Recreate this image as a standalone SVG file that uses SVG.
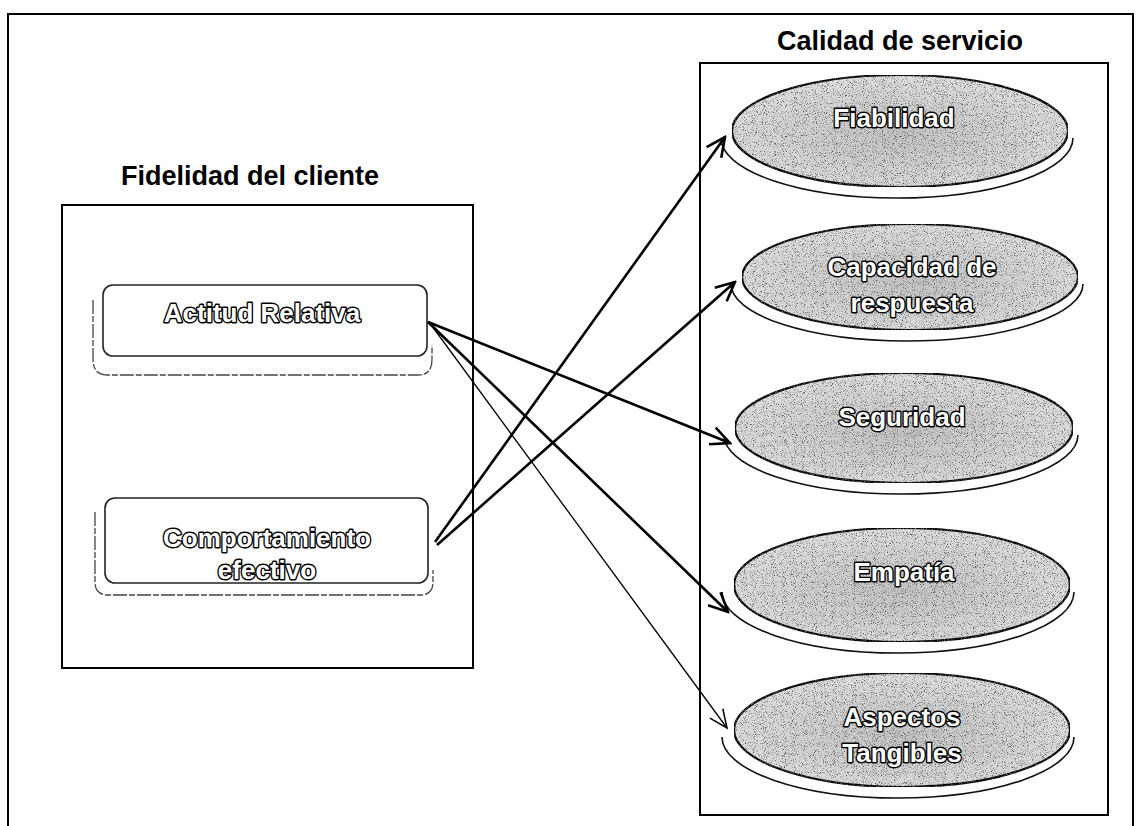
<svg xmlns="http://www.w3.org/2000/svg" width="1141" height="826" viewBox="0 0 1141 826">
<style>
  .frame{fill:none;stroke:#000;stroke-width:2}
  .title{font-family:"Liberation Sans",Arial,sans-serif;font-weight:bold;font-size:27px;fill:#000;text-anchor:middle}
  .lbl{font-family:"Liberation Sans",Arial,sans-serif;font-weight:bold;font-size:26px;fill:#fff;stroke:#000;stroke-width:2.8;paint-order:stroke;stroke-linejoin:round;text-anchor:middle}
  .rr{fill:#fff;stroke:#222;stroke-width:1.6}
  .shadow{fill:none;stroke:#444;stroke-width:1.3;stroke-dasharray:14 2 6 2}
  .oval{fill:url(#ovalFill);stroke:#000;stroke-width:2.2}
  .ring{fill:none;stroke:#111;stroke-width:1.6}
  .thick{fill:none;stroke:#000;stroke-width:2.6}
  .thin{fill:none;stroke:#000;stroke-width:1.3}
</style>
<defs>
  <radialGradient id="ovalFill" cx="0.5" cy="0.55" r="0.6">
    <stop offset="0" stop-color="#c4c4c4"/>
    <stop offset="1" stop-color="#e2e2e2"/>
  </radialGradient>
  <filter id="grain" x="0" y="0" width="1" height="1">
    <feTurbulence type="fractalNoise" baseFrequency="1.1" numOctaves="2" seed="7" result="noise"/>
    <feColorMatrix in="noise" type="matrix" values="0 0 0 0 0.1  0 0 0 0 0.1  0 0 0 0 0.1  4 0 0 0 -2.05" result="dots"/>
    <feComposite in="dots" in2="SourceGraphic" operator="in" result="clipped"/>
    <feMerge><feMergeNode in="SourceGraphic"/><feMergeNode in="clipped"/></feMerge>
  </filter>
  <marker id="ahThick" markerUnits="userSpaceOnUse" markerWidth="24" markerHeight="24" viewBox="0 0 24 24" refX="22" refY="12" orient="auto">
    <path d="M3,3 L22,12 L3,21" fill="none" stroke="#000" stroke-width="2.6"/>
  </marker>
  <marker id="ahThin" markerUnits="userSpaceOnUse" markerWidth="24" markerHeight="24" viewBox="0 0 24 24" refX="22" refY="12" orient="auto">
    <path d="M4,4 L22,12 L4,20" fill="none" stroke="#000" stroke-width="1.5"/>
  </marker>
</defs>
<rect width="1141" height="826" fill="#fff"/>

<g id="outer-frame">
  <path class="frame" d="M8,826 L8,14 L1133,14 L1133,826"/>
</g>

<g id="fidelidad-group">
  <text class="title" x="250" y="185">Fidelidad del cliente</text>
  <rect class="frame" x="62" y="205" width="411" height="463"/>
</g>

<g id="calidad-group">
  <text class="title" x="900" y="50">Calidad de servicio</text>
  <rect class="frame" x="700" y="63" width="408" height="752"/>
</g>

<g id="actitud">
  <path class="shadow" d="M93,300 L93,360 Q93,375 108,375 L418,375 Q432,375 432,360 L432,345"/>
  <rect class="rr" x="103" y="285" width="324" height="71" rx="10"/>
  <text class="lbl" x="262" y="322">Actitud Relativa</text>
</g>

<g id="comportamiento">
  <path class="shadow" d="M95,512 L95,582 Q95,595 108,595 L420,595 Q433,595 433,582 L433,570"/>
  <rect class="rr" x="105" y="498" width="323" height="85" rx="10"/>
  <text class="lbl" x="267" y="547">Comportamiento</text>
  <text class="lbl" x="267" y="579">efectivo</text>
</g>

<g id="fiabilidad">
  <path class="ring" d="M721,138 A176,60 0 0 0 1073,138"/>
  <ellipse class="oval" filter="url(#grain)" cx="900" cy="131" rx="168" ry="56"/>
  <text class="lbl" x="894" y="127">Fiabilidad</text>
</g>

<g id="capacidad">
  <path class="ring" d="M731,284 A176,57 0 0 0 1083,284"/>
  <ellipse class="oval" filter="url(#grain)" cx="910" cy="277" rx="168" ry="53"/>
  <text class="lbl" x="912" y="276">Capacidad de</text>
  <text class="lbl" x="912" y="312">respuesta</text>
</g>

<g id="seguridad">
  <path class="ring" d="M724,435 A177,59 0 0 0 1078,435"/>
  <ellipse class="oval" filter="url(#grain)" cx="904" cy="428" rx="169" ry="55"/>
  <text class="lbl" x="902" y="426">Seguridad</text>
</g>

<g id="empatia">
  <path class="ring" d="M722,592 A176,61 0 0 0 1074,592"/>
  <ellipse class="oval" filter="url(#grain)" cx="902" cy="585" rx="168" ry="57"/>
  <text class="lbl" x="904" y="581">Empatía</text>
</g>

<g id="aspectos">
  <path class="ring" d="M722,737 A176,61 0 0 0 1074,737"/>
  <ellipse class="oval" filter="url(#grain)" cx="902" cy="730" rx="168" ry="57"/>
  <text class="lbl" x="902" y="726">Aspectos</text>
  <text class="lbl" x="902" y="762">Tangibles</text>
</g>

<g id="connectors">
  <line class="thick" x1="428" y1="322" x2="730" y2="443" marker-end="url(#ahThick)"/>
  <line class="thick" x1="428" y1="322" x2="728" y2="612" marker-end="url(#ahThick)"/>
  <line class="thin" x1="432" y1="326" x2="727" y2="728" marker-end="url(#ahThin)"/>
  <line class="thick" x1="435" y1="542" x2="725" y2="137" marker-end="url(#ahThick)"/>
  <line class="thick" x1="437" y1="545" x2="735" y2="282" marker-end="url(#ahThick)"/>
</g>
</svg>
